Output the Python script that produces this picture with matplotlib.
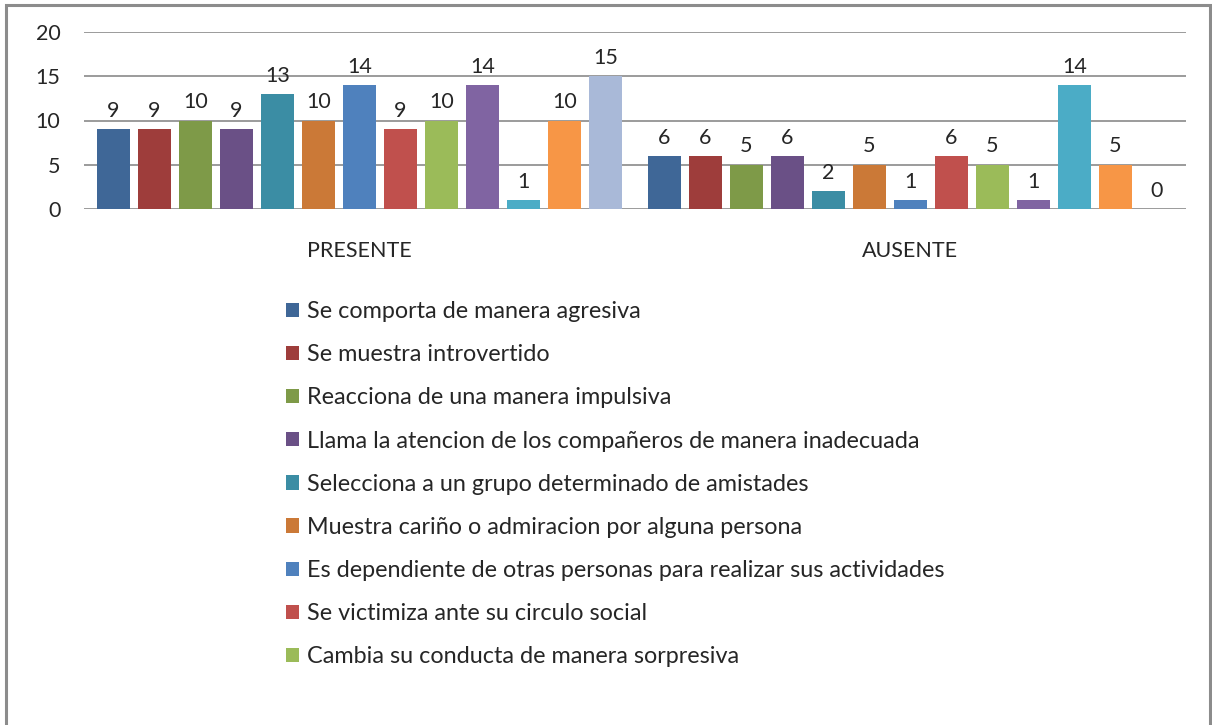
import numpy as np
import matplotlib
matplotlib.use("Agg")
import matplotlib.pyplot as plt
from matplotlib.patches import Rectangle, Patch

plt.rcParams['font.family'] = ['Lato', 'DejaVu Sans']

# Data
categories = ['PRESENTE', 'AUSENTE']
series_names = [
    'Se comporta de manera agresiva',
    'Se muestra introvertido',
    'Reacciona de una manera impulsiva',
    'Llama la atencion de los compañeros de manera inadecuada',
    'Selecciona a un grupo determinado de amistades',
    'Muestra cariño o admiracion por alguna persona',
    'Es dependiente de otras personas para realizar sus actividades',
    'Se victimiza ante su circulo social',
    'Cambia su conducta de manera sorpresiva',
]
presente = [9, 9, 10, 9, 13, 10, 14, 9, 10, 14, 1, 10, 15]
ausente = [6, 6, 5, 6, 2, 5, 1, 6, 5, 1, 14, 5, 0]

colors = ['#3F6797', '#9E3D3B', '#7E9A48', '#6A5086', '#3B8DA4', '#CB7937',
          '#4F81BD', '#C0504D', '#9BBB59', '#8064A2', '#4BACC6', '#F79646',
          '#A9B9D8']

fig = plt.figure(figsize=(12.12, 7.25), dpi=100)
ax = fig.add_axes([84 / 1212, 1 - 209 / 725, 1102 / 1212, 177 / 725])

n = len(presente)
pitch = 41 / 551
width = 33 / 551
x = np.arange(len(categories))
offsets = (np.arange(n) - (n - 1) / 2) * pitch

for i in range(n):
    vals = [presente[i], ausente[i]]
    bars = ax.bar(x + offsets[i], vals, width=width, color=colors[i], zorder=3)
    ax.bar_label(bars, padding=6, fontsize=15.5, color='#262626')

ax.set_xlim(-0.5, 1.5)
ax.set_ylim(0, 20)
ax.set_yticks([0, 5, 10, 15, 20])
ax.set_xticks(x)
ax.set_xticklabels(categories, fontsize=15.5, color='#262626')
ax.tick_params(axis='x', length=0, pad=23)
ax.tick_params(axis='y', length=0, pad=17, labelsize=15.5, labelcolor='#262626')
for s in ax.spines.values():
    s.set_visible(False)
ax.grid(axis='y', color='#8a8a8a', linewidth=1.2, zorder=0)

# legend (only first 9 series visible in the original)
handles = [Patch(facecolor=colors[i], edgecolor='none') for i in range(len(series_names))]
fig.legend(handles, series_names, loc='upper left',
           bbox_to_anchor=(265 / 1212, 1 - 280 / 725), frameon=False,
           fontsize=16.8, handlelength=0.57, handleheight=0.57,
           handletextpad=0.35, labelspacing=0.95, labelcolor='#262626')

# chart frame
fig.add_artist(Rectangle((6 / 1212, -0.05), 1204 / 1212, 1.05 - 5 / 725,
                         transform=fig.transFigure, fill=False,
                         edgecolor='#8c8c8c', linewidth=2.2))

plt.savefig('out.png', dpi=100)
plt.close()
